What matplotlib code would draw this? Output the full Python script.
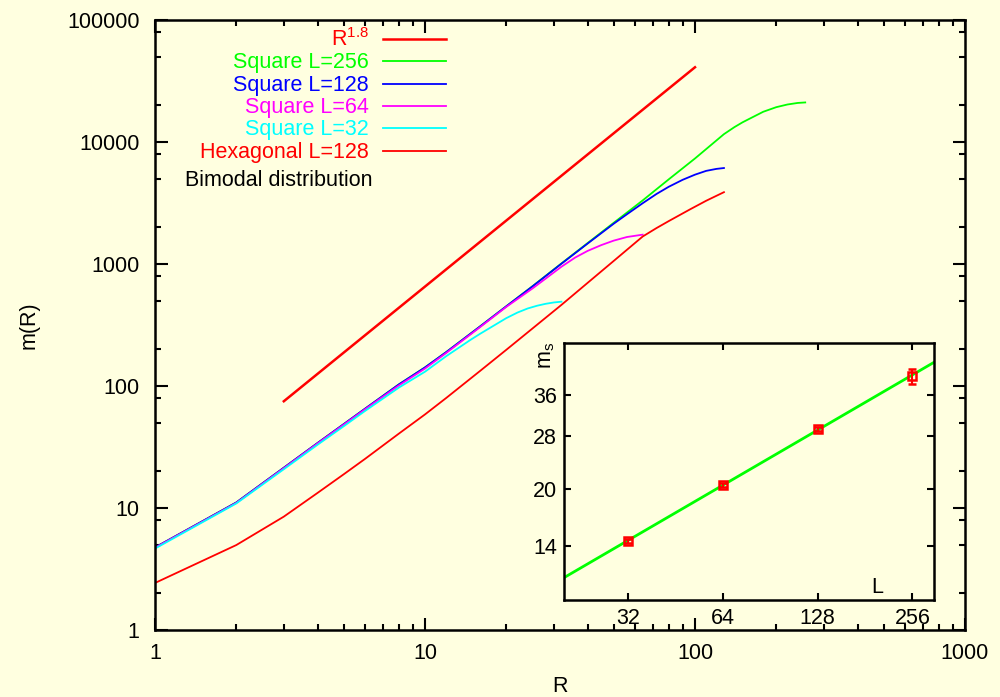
import numpy as np
import matplotlib
matplotlib.use('Agg')
import matplotlib.pyplot as plt
from matplotlib.ticker import LogLocator, NullLocator, FixedLocator, FixedFormatter, NullFormatter

plt.rcParams['font.family'] = ['Liberation Sans', 'DejaVu Sans']
plt.rcParams['mathtext.fontset'] = 'custom'
plt.rcParams['mathtext.rm'] = 'Liberation Sans'
plt.rcParams['mathtext.it'] = 'Liberation Sans'

# R^1.8 reference line
ref_R = [3, 100]
ref_m = [75, 41000]

# square lattice, L=256
sq256_R = [1, 2, 3, 4, 5, 6, 8, 10, 12, 16, 20, 25, 32, 40, 50, 64, 80, 100, 128,
           140, 150, 160, 179, 200, 220, 240, 256]
sq256_m = [4.75, 11.1, 21.4, 34.1, 48.7, 65.2, 103, 142, 190, 308, 450, 657, 1010, 1483, 2177, 3320, 4950, 7330, 11600,
           13250, 14500, 15600, 17700, 19300, 20300, 20900, 21100]

# square lattice, L=128
sq128_R = [1, 2, 3, 4, 5, 6, 8, 10, 12, 16, 20, 25, 32, 40, 50, 56, 64, 72, 80, 90, 100, 110, 120, 128]
sq128_m = [4.75, 11.1, 21.4, 34.1, 48.7, 65.2, 103, 142, 190, 308, 450, 655, 1005, 1470, 2140, 2560, 3150, 3750,
           4300, 4900, 5400, 5800, 6020, 6120]

# square lattice, L=64
sq64_R = [1, 2, 3, 4, 5, 6, 8, 10, 12, 16, 20, 25, 28, 32, 36, 40, 45, 50, 56, 64]
sq64_m = [4.72, 11.0, 21.2, 33.8, 48.2, 64.5, 101, 139, 187, 304, 445, 630, 760, 950, 1130, 1280, 1430, 1555, 1665, 1740]

# square lattice, L=32
sq32_R = [1, 2, 3, 4, 5, 6, 8, 10, 12, 14.7, 16, 20, 22, 24, 26, 28, 30, 32]
sq32_m = [4.65, 10.9, 20.8, 33.0, 46.8, 62.5, 97, 131, 176, 238, 268, 360, 400, 432, 455, 472, 484, 491]

# hexagonal lattice, L=128
hex_R = [1, 2, 3, 4, 5, 6, 8, 10, 12, 16, 20, 25, 32, 40, 50, 64, 72, 80, 96, 110, 128]
hex_m = [2.43, 4.97, 8.5, 13.3, 18.9, 25.3, 40.7, 58.5, 80, 133, 198, 296, 462, 700, 1060, 1680, 1970, 2250, 2810,
         3300, 3880]

# inset: m_s versus L
ins_L = [32, 64, 128, 256]
ins_ms = [14.47, 20.6, 29.2, 40.6]
ins_err = [0.15, 0.25, 0.35, 2.0]
fit_L = [20, 300]
fit_ms = [11.5, 44.3]

series = [
    (r'$\mathrm{R}^{1.8}$', ref_R, ref_m, '#ff0000', 1.8),
    ('Square L=256', sq256_R, sq256_m, '#00ff00', 1.3),
    ('Square L=128', sq128_R, sq128_m, '#0000ff', 1.3),
    ('Square L=64', sq64_R, sq64_m, '#ff00ff', 1.3),
    ('Square L=32', sq32_R, sq32_m, '#00ffff', 1.3),
    ('Hexagonal L=128', hex_R, hex_m, '#ff0000', 1.3),
]

bg = '#ffffe0'
fig = plt.figure(figsize=(10, 6.97), dpi=100, facecolor=bg)
ax = fig.add_axes([0.155, 0.0961, 0.81, 0.8752], facecolor=bg)

for lab, R, m, c, lw in series:
    ax.plot(R, m, color=c, lw=lw)

ax.set_xscale('log')
ax.set_yscale('log')
ax.set_xlim(1, 1000)
ax.set_ylim(1, 100000)
ax.yaxis.set_minor_locator(LogLocator(base=10, subs=[2, 5, 8], numticks=10))
ax.yaxis.set_minor_formatter(NullFormatter())
ax.xaxis.set_minor_formatter(NullFormatter())
ax.set_xticks([1, 10, 100, 1000])
ax.set_xticklabels(['1', '10', '100', '1000'])
ax.set_yticks([1, 10, 100, 1000, 10000, 100000])
ax.set_yticklabels(['1', '10', '100', '1000', '10000', '100000'])
ax.tick_params(which='both', direction='in', top=True, right=True, width=1.5, labelsize=15.5)
ax.tick_params(which='major', length=9)
ax.tick_params(which='minor', length=4.5)
ax.tick_params(axis='y', pad=11)
ax.tick_params(axis='x', pad=9)
for s in ax.spines.values():
    s.set_linewidth(1.8)
ax.set_xlabel('R', fontsize=15.5, labelpad=9)
ax.set_ylabel('m(R)', fontsize=15.5, labelpad=20)

# legend drawn by hand, text right aligned as in the original
tx = 0.2642
lx0, lx1 = 0.2815, 0.3593
row0, step = 0.9689, 0.0366
for i, (lab, R, m, c, lw) in enumerate(series):
    yy = row0 - i * step
    ax.text(tx, yy - 0.0115, lab, color=c, fontsize=15.5, ha='right', va='baseline', transform=ax.transAxes)
    ax.plot([lx0, lx1], [yy, yy], color=c, lw=lw, transform=ax.transAxes, clip_on=False)
ax.text(tx + 0.004, 0.7393 - 0.0115, 'Bimodal distribution', color='black', fontsize=15.5, ha='right', va='baseline',
        transform=ax.transAxes)

# inset
ins = fig.add_axes([0.564, 0.1392, 0.370, 0.3687], facecolor=bg)
ins.plot(fit_L, fit_ms, color='#00ff00', lw=2)
ins.errorbar(ins_L, ins_ms, yerr=ins_err, fmt='s', color='#ff0000', mfc='none', mec='#ff0000', ms=5.5, mew=1.8,
             elinewidth=1.5, capsize=3, capthick=1.5)
ins.set_xscale('log')
ins.set_yscale('log')
ins.set_xlim(20, 300)
ins.set_ylim(10, 50)
ins.xaxis.set_major_locator(FixedLocator(ins_L))
ins.xaxis.set_major_formatter(FixedFormatter([str(v) for v in ins_L]))
ins.yaxis.set_major_locator(FixedLocator([14, 20, 28, 36]))
ins.yaxis.set_major_formatter(FixedFormatter(['14', '20', '28', '36']))
ins.xaxis.set_minor_locator(NullLocator())
ins.yaxis.set_minor_locator(NullLocator())
ins.tick_params(which='both', direction='in', top=True, right=True, length=5, width=1.5, labelsize=15.5)
ins.tick_params(axis='y', pad=5)
ins.tick_params(axis='x', pad=6)
for s in ins.spines.values():
    s.set_linewidth(1.8)
ins.text(-0.046, 0.953, r'$\mathrm{m}_\mathrm{s}$', rotation=90, fontsize=15.5, ha='center', va='center',
         transform=ins.transAxes)
ins.text(0.846, 0.05, 'L', fontsize=15.5, ha='center', va='center', transform=ins.transAxes)

fig.savefig('out.png', dpi=100, facecolor=bg)
